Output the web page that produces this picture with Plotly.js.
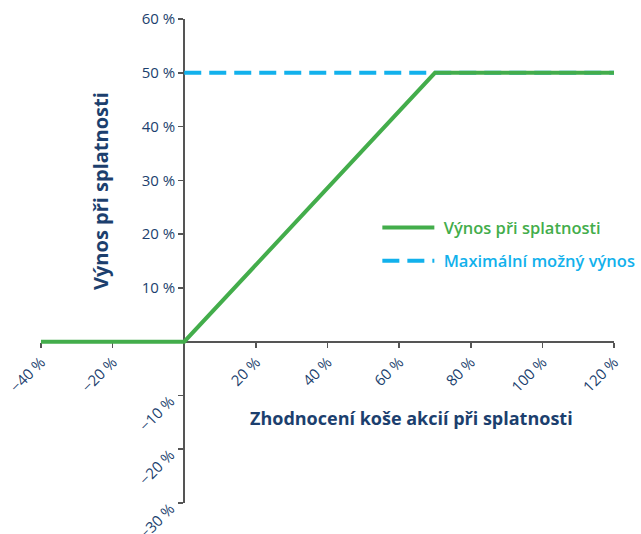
<!DOCTYPE html>
<html>
<head>
<meta charset="utf-8">
<script src="https://cdn.plot.ly/plotly-3.0.1.min.js"></script>
<style>html,body{margin:0;padding:0;background:#fff}#chart{width:641px;height:534px}</style>
</head>
<body>
<div id="chart"></div>
<script>
// Data (in %)
const payoffX = [-40, 0, 70, 120];
const payoffY = [0, 0, 50, 50];
const maxX = [0, 120];
const maxY = [50, 50];

const seriesNames = ['Výnos při splatnosti', 'Maximální možný výnos'];
const xTitle = 'Zhodnocení koše akcií při splatnosti';
const yTitle = 'Výnos při splatnosti';

const xTickVals = [-40, -20, 20, 40, 60, 80, 100, 120];
const xTickText = ['\u221240 %', '\u221220 %', '20 %', '40 %', '60 %', '80 %', '100 %', '120 %'];
const yPosTickVals = [-30, -20, -10, 10, 20, 30, 40, 50, 60];
const yPosTickText = ['', '', '', '10 %', '20 %', '30 %', '40 %', '50 %', '60 %'];
const yNegTickVals = [-10, -20, -30];
const yNegTickText = ['\u221210 %', '\u221220 %', '\u221230 %'];

const GREEN = '#43ad4b';
const BLUE = '#12b1ec';
const NAVY = '#1c3f6e';
const AXIS = '#555555';
const FONT = 'Open Sans, Noto Sans, sans-serif';

const traces = [
  {
    x: maxX, y: maxY, type: 'scatter', mode: 'lines',
    name: '<span style="color:' + BLUE + '">\u00a0' + seriesNames[1] + '</span>',
    line: {color: BLUE, width: 4, dash: '17px,8px'},
    legendgroup: 'b', legendrank: 2, hoverinfo: 'skip'
  },
  {
    x: payoffX, y: payoffY, type: 'scatter', mode: 'lines',
    name: '<span style="color:' + GREEN + '">\u00a0' + seriesNames[0] + '</span>',
    line: {color: GREEN, width: 4},
    legendgroup: 'a', legendrank: 1, hoverinfo: 'skip'
  },
  {
    x: [null], y: [null], yaxis: 'y2', type: 'scatter', mode: 'lines',
    showlegend: false, hoverinfo: 'skip'
  }
];

const layout = {
  width: 641, height: 534,
  margin: {l: 41, r: 27, t: 19, b: 31, autoexpand: false},
  paper_bgcolor: '#ffffff', plot_bgcolor: '#ffffff',
  font: {family: FONT, color: NAVY, size: 15},
  showlegend: true,
  legend: {
    x: 0.587, y: 0.605, xanchor: 'left', yanchor: 'top',
    font: {family: FONT, size: 16.5, weight: 600},
    itemwidth: 52, tracegroupgap: 9, traceorder: 'grouped',
    bgcolor: 'rgba(0,0,0,0)'
  },
  xaxis: {
    range: [-40, 120], anchor: 'free', position: 30 / 90,
    showgrid: false, zeroline: false,
    showline: true, linecolor: AXIS, linewidth: 2,
    ticks: 'outside', ticklen: 5, tickwidth: 1.5, tickcolor: AXIS,
    tickvals: xTickVals, ticktext: xTickText, tickangle: -45,
    tickfont: {family: FONT, size: 15, color: NAVY},
    ticklabeloverflow: 'allow',
    layer: 'below traces', fixedrange: true
  },
  yaxis: {
    range: [-30, 60], anchor: 'free', position: 40 / 160,
    showgrid: false, zeroline: false,
    showline: true, linecolor: AXIS, linewidth: 2,
    ticks: 'outside', ticklen: 5, tickwidth: 1.5, tickcolor: AXIS,
    tickvals: yPosTickVals, ticktext: yPosTickText, tickangle: 0,
    tickfont: {family: FONT, size: 15, color: NAVY},
    ticklabeloverflow: 'allow',
    layer: 'below traces', fixedrange: true
  },
  yaxis2: {
    range: [-30, 60], anchor: 'free', position: 40 / 160, overlaying: 'y',
    showgrid: false, zeroline: false, showline: false,
    ticks: '', tickvals: yNegTickVals, ticktext: yNegTickText, tickangle: -45,
    tickfont: {family: FONT, size: 15, color: NAVY},
    ticklabelstandoff: 14, ticklabelshift: 4, ticklabeloverflow: 'allow', fixedrange: true
  },
  annotations: [
    {
      text: '<b>' + yTitle + '</b>', xref: 'paper', yref: 'paper',
      x: (100 - 41) / 573, y: (503 - 191) / 484, textangle: -90,
      showarrow: false, xanchor: 'center', yanchor: 'middle',
      font: {family: FONT, size: 20, color: NAVY}
    },
    {
      text: '<b>' + xTitle + '</b>', xref: 'paper', yref: 'paper',
      x: (411 - 41) / 573, y: (503 - 418) / 484,
      showarrow: false, xanchor: 'center', yanchor: 'middle',
      font: {family: FONT, size: 18, color: NAVY}
    }
  ]
};

Plotly.newPlot('chart', traces, layout, {displayModeBar: false, staticPlot: true});
</script>
</body>
</html>
